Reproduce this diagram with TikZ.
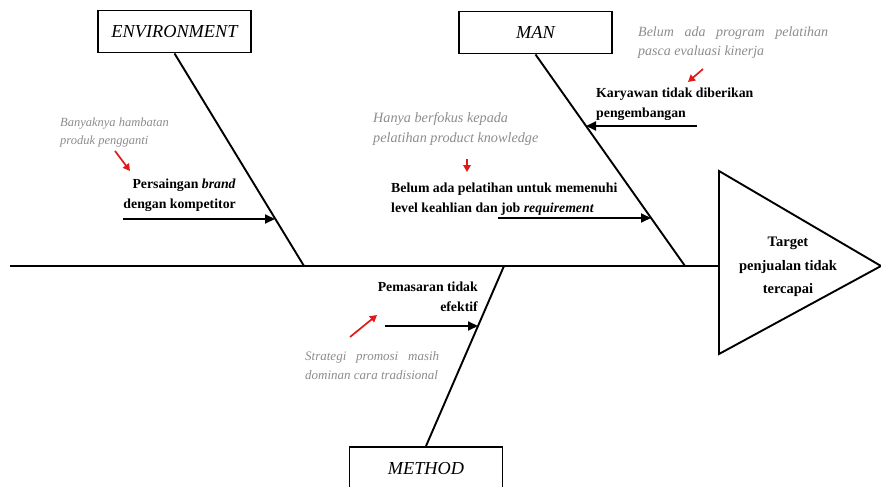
\documentclass[tikz,border=0pt]{standalone}
\usepackage{fontspec}
\setmainfont{Liberation Serif}
\usetikzlibrary{arrows.meta,calc}
\definecolor{notegray}{RGB}{140,140,140}
\definecolor{arrred}{RGB}{225,25,25}
\begin{document}
\begin{tikzpicture}[x=1pt,y=-1pt,
  bone/.style={line width=1.9pt},
  cause/.style={line width=1.9pt,-{Triangle[length=10pt,width=9pt]}},
  redarr/.style={draw=arrred,line width=1.7pt,-{Triangle[length=7pt,width=7.5pt]}},
  catbox/.style={draw,line width=1.9pt,minimum width=153pt,minimum height=42pt,inner sep=0pt,font=\fontsize{18.3}{20}\selectfont\itshape},
  causetxt/.style={font=\fontsize{13.8}{20}\selectfont\bfseries,inner sep=0pt},
  note/.style={text=notegray,font=\fontsize{13}{19}\selectfont\itshape,inner sep=0pt,align=left}
]
\useasboundingbox (0,0) rectangle (881,487);
\clip (0,0) rectangle (881,487);

% category boxes
\node[catbox] (env) at (174.5,31.5) {ENVIRONMENT};
\node[catbox] (man) at (535.5,32.5) {MAN};
\node[catbox,minimum height=44pt] (met) at (426,469) {METHOD};

% spine and head
\coordinate (tail) at (10,266);
\coordinate (head) at (719,266);
\coordinate (eb) at (304,266);
\coordinate (mb) at (685,266);
\coordinate (tb) at (504,266);
\coordinate (t1) at (719,171);
\coordinate (t2) at (881,266);
\coordinate (t3) at (719,354);
\draw[bone] (tail) -- (head);
\draw[bone,line join=miter] (t1) -- (t2) -- (t3) -- cycle;
\node[causetxt,align=center,font=\fontsize{14.5}{23.5}\selectfont\bfseries] (target) at (788,267) {Target\\penjualan tidak\\tercapai};

% bones
\draw[bone] (env.south) -- (eb);
\draw[bone] (man.south) -- (mb);
\draw[bone] (met.north) -- (tb);

% environment cause
\coordinate (c1s) at (123,219);
\coordinate (c1e) at (275,219);
\draw[cause] (c1s) -- (c1e);
\node[causetxt,align=right,anchor=east] (c1) at (236,195) {Persaingan \textit{brand}\\dengan kompetitor};
\node[note,anchor=west,font=\fontsize{12.5}{18}\selectfont\itshape] (n1) at (60,132) {Banyaknya hambatan\\produk pengganti};
\coordinate (r1s) at (115,151);
\coordinate (r1e) at (130,171);
\draw[redarr] (r1s) -- (r1e);

% man causes
\coordinate (c2s) at (697,126);
\coordinate (c2e) at (586,126);
\draw[cause] (c2s) -- (c2e);
\node[causetxt,align=left,anchor=west] (c2) at (596,104) {Karyawan tidak diberikan\\pengembangan};
\node[note,anchor=west,font=\fontsize{14}{19}\selectfont\itshape] (n2) at (638,43) {\makebox[190pt][s]{Belum ada program pelatihan}\\pasca evaluasi kinerja};
\coordinate (r2s) at (703,69);
\coordinate (r2e) at (688,82);
\draw[redarr] (r2s) -- (r2e);

\coordinate (c3s) at (498,218);
\coordinate (c3e) at (651,218);
\draw[cause] (c3s) -- (c3e);
\node[causetxt,align=left,anchor=west] (c3) at (391,199) {Belum ada pelatihan untuk memenuhi\\level keahlian dan job \textit{requirement}};
\node[note,anchor=west,font=\fontsize{14.2}{20}\selectfont\itshape] (n3) at (373,129) {Hanya berfokus kepada\\pelatihan product knowledge};
\coordinate (r3s) at (467,159);
\coordinate (r3e) at (467,172);
\draw[redarr] (r3s) -- (r3e);

% method cause
\coordinate (c4s) at (385,326);
\coordinate (c4e) at (478,326);
\draw[cause] (c4s) -- (c4e);
\node[causetxt,align=right,anchor=east] (c4) at (478,297) {Pemasaran tidak\\efektif};
\node[note,anchor=west] (n4) at (305,366) {\makebox[134pt][s]{Strategi promosi masih}\\dominan cara tradisional};
\coordinate (r4s) at (350,337);
\coordinate (r4e) at (377,315);
\draw[redarr] (r4s) -- (r4e);
\end{tikzpicture}
\end{document}
